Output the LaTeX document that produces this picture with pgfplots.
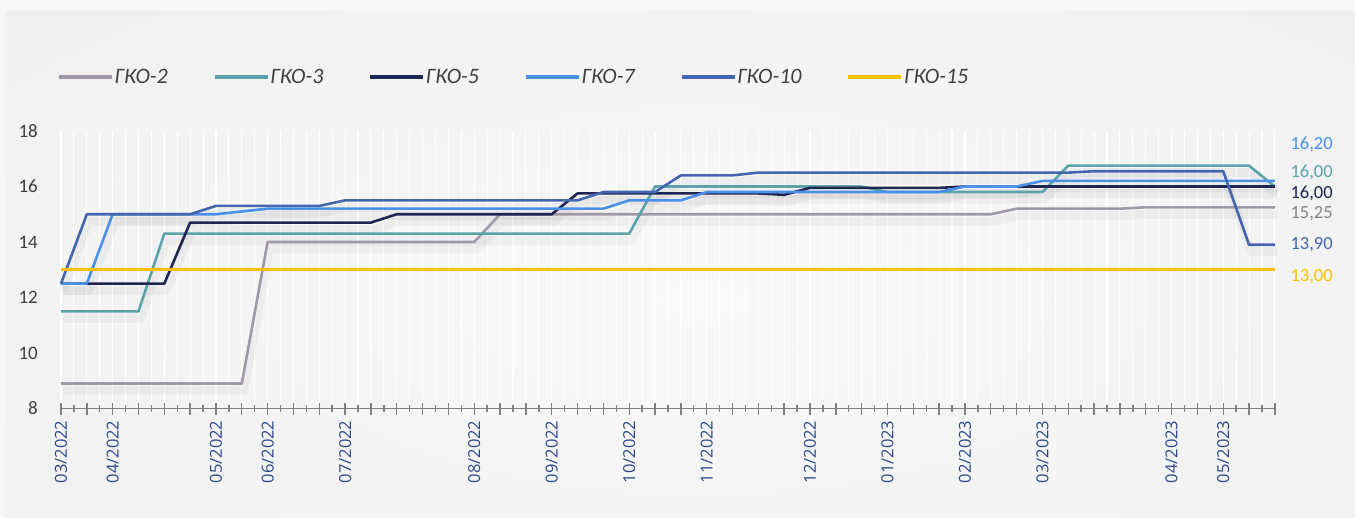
\documentclass[border=0pt]{standalone}
\usepackage{fontspec}
\setmainfont{Carlito}
\newfontfamily\osans{Open Sans}
\usepackage{pgfplots}
\usepackage{pgfplotstable}
\pgfplotsset{compat=1.18}

\definecolor{cA}{RGB}{160,152,166}
\definecolor{cB}{RGB}{91,163,168}
\definecolor{cC}{RGB}{31,38,84}
\definecolor{cD}{RGB}{74,144,232}
\definecolor{cE}{RGB}{68,101,176}
\definecolor{cF}{RGB}{255,192,0}
\definecolor{labgray}{RGB}{64,64,64}
\definecolor{tickgray}{RGB}{128,128,128}
\definecolor{datblue}{RGB}{44,72,140}
\definecolor{outerbg}{RGB}{247,247,247}
\definecolor{panelin}{RGB}{249,249,249}
\definecolor{panelout}{RGB}{234,234,234}

% GKO-2
\pgfplotstableread{
x y
0 8.9
14 8.9
16 14.0
32 14.0
34 15.0
72 15.0
74 15.2
82 15.2
84 15.25
94 15.25
}\tA
% GKO-3
\pgfplotstableread{
x y
0 11.5
6 11.5
8 14.3
44 14.3
46 16.0
62 16.0
64 15.8
76 15.8
78 16.75
92 16.75
94 16.0
}\tB
% GKO-5
\pgfplotstableread{
x y
0 12.5
8 12.5
10 14.7
24 14.7
26 15.0
38 15.0
40 15.75
54 15.75
56 15.7
58 15.95
68 15.95
70 16.0
94 16.0
}\tC
% GKO-7
\pgfplotstableread{
x y
0 12.5
2 12.5
4 15.0
12 15.0
16 15.2
42 15.2
44 15.5
48 15.5
50 15.8
68 15.8
70 16.0
74 16.0
76 16.2
94 16.2
}\tD
% GKO-10
\pgfplotstableread{
x y
0 12.5
2 15.0
10 15.0
12 15.3
20 15.3
22 15.5
40 15.5
42 15.8
46 15.8
48 16.4
52 16.4
54 16.5
78 16.5
80 16.55
90 16.55
92 13.9
94 13.9
}\tE
% GKO-15
\pgfplotstableread{
x y
0 13.0
94 13.0
}\tF

\begin{document}
\begin{tikzpicture}
\useasboundingbox (0,0) rectangle (1355pt,517pt);
\fill[outerbg] (0,0) rectangle (1355pt,517pt);
\begin{scope}
\clip (5pt,0pt) rectangle (1355pt,505pt);
\shade[inner color=panelin, outer color=panelout] (-800pt,-443pt) rectangle (2200pt,877pt);
\end{scope}
\begin{axis}[
  at={(61pt,108.5pt)}, anchor=south west,
  scale only axis, width=1214pt, height=277.5pt,
  xmin=0, xmax=94, ymin=8, ymax=18,
  axis lines=left,
  axis line style={-},
  y axis line style={draw=none},
  x axis line style={draw=tickgray, line width=1.6pt},
  ytick={8,10,...,18},
  ytick style={draw=none},
  yticklabel style={font=\fontsize{19}{21}\selectfont, text=labgray, anchor=east, inner sep=0pt, xshift=-17pt},
  xtick={0,2,...,94},
  minor xtick={1,3,...,93},
  xticklabels={03/2022,{},04/2022,{},{},{},05/2022,{},06/2022,{},{},07/2022,{},{},{},{},08/2022,{},{},09/2022,{},{},10/2022,{},{},11/2022,{},{},{},12/2022,{},{},01/2023,{},{},02/2023,{},{},03/2023,{},{},{},{},04/2023,{},05/2023,{},{}},
  xticklabel shift=6pt,
  xticklabel style={rotate=90, anchor=east, font=\osans\fontsize{16.5}{18}\selectfont, text=datblue, inner sep=0pt},
  tick align=center,
  major tick length=12pt, minor tick length=7pt,
  x tick style={draw=tickgray, line width=1.4pt},
  xmajorgrids, xminorgrids,
  major grid style={white, line width=1.1pt},
  minor grid style={white, line width=1.1pt},
  clip=false,
  /pgf/number format/assume math mode=true,
  legend style={at={(-0.0033,1.195)}, anchor=west, draw=none, fill=none, inner sep=0pt,
     legend columns=6, font=\itshape\fontsize{22}{24}\selectfont, text=labgray,
     nodes={inner sep=1pt},
     /tikz/every even column/.append style={column sep=44pt}},
  legend image code/.code={\draw[#1, line width=3.5pt] (0pt,0pt) -- (53pt,0pt);},
  every axis plot/.append style={line width=2.6pt, line join=round},
]
% soft shadows
\addplot[forget plot, draw=black, opacity=0.035, line width=9pt, yshift=-7pt, xshift=2pt] table {\tA};
\addplot[forget plot, draw=black, opacity=0.035, line width=9pt, yshift=-7pt, xshift=2pt] table {\tB};
\addplot[forget plot, draw=black, opacity=0.035, line width=9pt, yshift=-7pt, xshift=2pt] table {\tC};
\addplot[forget plot, draw=black, opacity=0.035, line width=9pt, yshift=-7pt, xshift=2pt] table {\tD};
\addplot[forget plot, draw=black, opacity=0.035, line width=9pt, yshift=-7pt, xshift=2pt] table {\tE};
\addplot[cA] table {\tA}; \addlegendentry{ГКО-2}
\addplot[cB] table {\tB}; \addlegendentry{ГКО-3}
\addplot[cC] table {\tC}; \addlegendentry{ГКО-5}
\addplot[cD] table {\tD}; \addlegendentry{ГКО-7}
\addplot[cE] table {\tE}; \addlegendentry{ГКО-10}
\addplot[cF] table {\tF}; \addlegendentry{ГКО-15}

\node[anchor=base west, inner sep=0pt, text=cD, font=\fontsize{18.5}{20}\selectfont] at (axis cs:95.2,17.33) {16,20};
\node[anchor=base west, inner sep=0pt, text=cB, font=\fontsize{18.5}{20}\selectfont] at (axis cs:95.2,16.32) {16,00};
\node[anchor=base west, inner sep=0pt, text=cC, font=\fontsize{18.5}{20}\selectfont] at (axis cs:95.2,15.55) {16,00};
\node[anchor=base west, inner sep=0pt, text=cA!85!black, font=\fontsize{18.5}{20}\selectfont] at (axis cs:95.2,14.85) {15,25};
\node[anchor=base west, inner sep=0pt, text=cE, font=\fontsize{18.5}{20}\selectfont] at (axis cs:95.2,13.72) {13,90};
\node[anchor=base west, inner sep=0pt, text=cF, font=\fontsize{18.5}{20}\selectfont] at (axis cs:95.2,12.59) {13,00};
\end{axis}
\end{tikzpicture}
\end{document}
